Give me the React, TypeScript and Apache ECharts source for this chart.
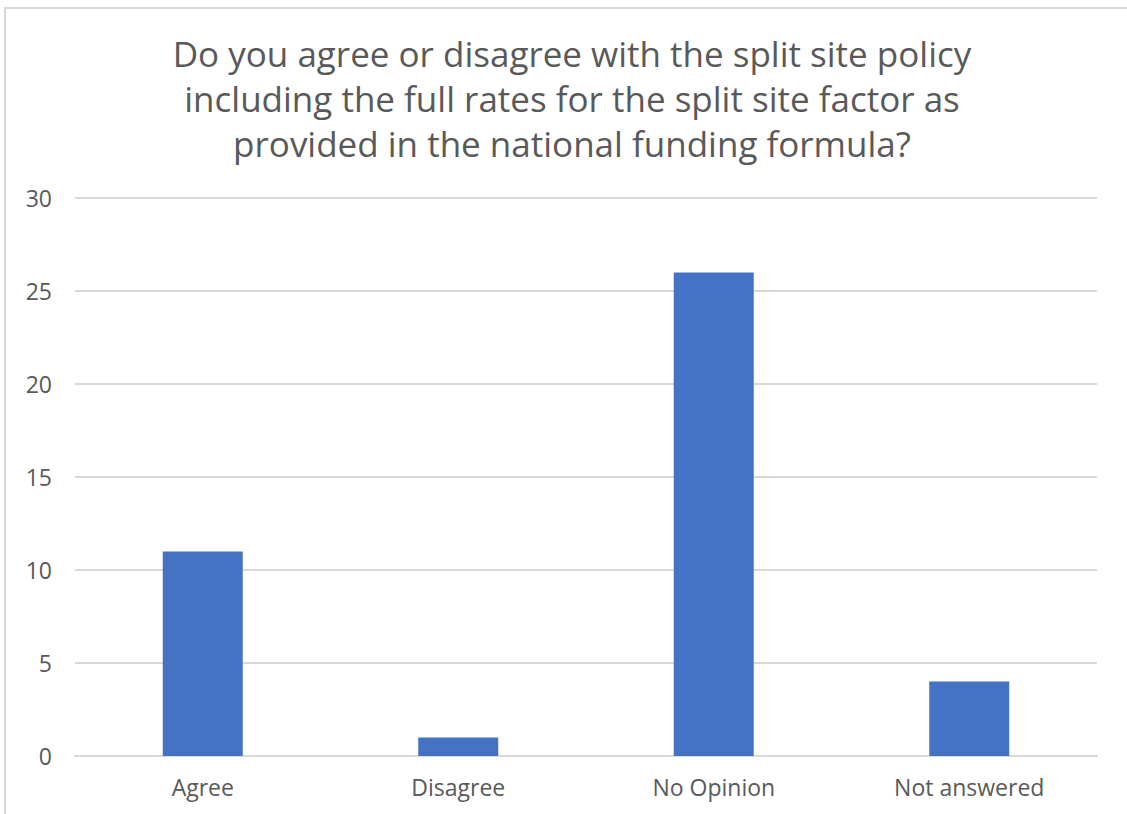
import React, { useEffect, useRef } from "react";
import * as echarts from "echarts";

const categories = ["Agree", "Disagree", "No Opinion", "Not answered"];
const values = [11, 1, 26, 4];
const titleLines = [
  "Do you agree or disagree with the split site policy",
  "including the full rates for the split site factor as",
  "provided in the national funding formula?",
];

export default function App() {
  const ref = useRef<HTMLDivElement>(null);
  useEffect(() => {
    if (!ref.current) return;
    const chart = echarts.init(ref.current, undefined, { renderer: "svg" });
    chart.setOption({
      animation: false,
      backgroundColor: "#ffffff",
      title: {
        text: titleLines.join("\n"),
        left: 567,
        top: 26,
        textAlign: "center",
        textStyle: {
          fontFamily: "Open Sans",
          fontSize: 35,
          fontWeight: "normal",
          color: "#595959",
          lineHeight: 45,
        },
      },
      graphic: [
        {
          type: "rect",
          shape: { x: 5, y: 8, width: 1140, height: 820 },
          style: { fill: "none", stroke: "#d9d9d9", lineWidth: 2 },
          silent: true,
        },
      ],
      grid: { left: 75, right: 30, top: 198, bottom: 58, containLabel: false },
      xAxis: {
        type: "category",
        data: categories,
        axisLine: { show: true, lineStyle: { color: "#d9d9d9", width: 2 } },
        axisTick: { show: false },
        axisLabel: {
          fontFamily: "Open Sans",
          fontSize: 23,
          color: "#595959",
          margin: 19,
        },
      },
      yAxis: {
        type: "value",
        min: 0,
        max: 30,
        interval: 5,
        axisLine: { show: false },
        axisTick: { show: false },
        splitLine: { lineStyle: { color: "#d9d9d9", width: 2 } },
        axisLabel: {
          fontFamily: "Open Sans",
          fontSize: 23,
          color: "#595959",
          margin: 23,
        },
      },
      series: [
        {
          type: "bar",
          data: values,
          barWidth: 80,
          itemStyle: { color: "#4472c4" },
        },
      ],
    });
    return () => chart.dispose();
  }, []);
  return (
    <div
      ref={ref}
      style={{ position: "absolute", left: 0, top: 0, width: 1127, height: 814 }}
    />
  );
}
